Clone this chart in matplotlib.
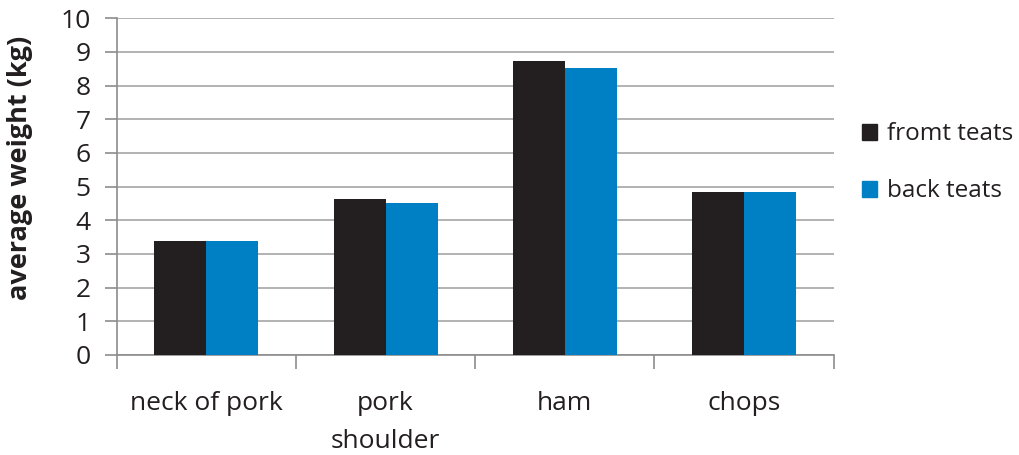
import matplotlib
matplotlib.use("Agg")
import matplotlib.pyplot as plt
import numpy as np
from matplotlib.patches import Patch

categories = ["neck of pork", "pork\nshoulder", "ham", "chops"]
front = [3.38, 4.62, 8.73, 4.83]
back = [3.38, 4.50, 8.52, 4.83]
series_names = ["fromt teats", "back teats"]
colors = ["#231f20", "#0080c4"]

plt.rcParams['font.family'] = ['Open Sans', 'DejaVu Sans']

fig = plt.figure(figsize=(10.19, 4.55), dpi=100)
ax = fig.add_axes([0.1146, 0.22, 0.7035, 0.74])

x = np.arange(len(categories))
w = 0.29
ax.bar(x - w/2, front, w, color=colors[0], zorder=3)
ax.bar(x + w/2, back, w, color=colors[1], zorder=3)

ax.set_xlim(-0.5, len(categories) - 0.5)
ax.set_ylim(0, 10)
ax.set_yticks(range(0, 11))
ax.yaxis.grid(True, color="#a6a6a6", linewidth=1.2, zorder=0)
ax.set_axisbelow(True)

for s in ["top", "right"]:
    ax.spines[s].set_visible(False)
for s in ["left", "bottom"]:
    ax.spines[s].set_color("#8c8c8c")
    ax.spines[s].set_linewidth(1.2)

ax.set_xticks(x)
ax.set_xticklabels(categories, linespacing=1.7)
ax.set_xticks(np.arange(-0.5, len(categories)), minor=True)
ax.tick_params(axis="x", which="major", length=0, pad=26, labelsize=19, colors="#231f20")
ax.tick_params(axis="x", which="minor", length=10, color="#8c8c8c", width=1.2)
ax.tick_params(axis="y", length=9, color="#8c8c8c", width=1.2, labelsize=19, labelcolor="#231f20", pad=10)

ax.set_ylabel("average weight (kg)", fontsize=19.5, fontweight="bold", color="#231f20")
ax.yaxis.set_label_coords(-0.117, 0.555)

handles = [Patch(color=c) for c in colors]
fig.legend(handles, series_names, loc="center left", bbox_to_anchor=(0.824, 0.642),
           frameon=False, fontsize=17.5, handlelength=0.65, handleheight=0.65,
           labelspacing=1.35, handletextpad=0.4, labelcolor="#231f20")

fig.savefig("out.png", dpi=100)
